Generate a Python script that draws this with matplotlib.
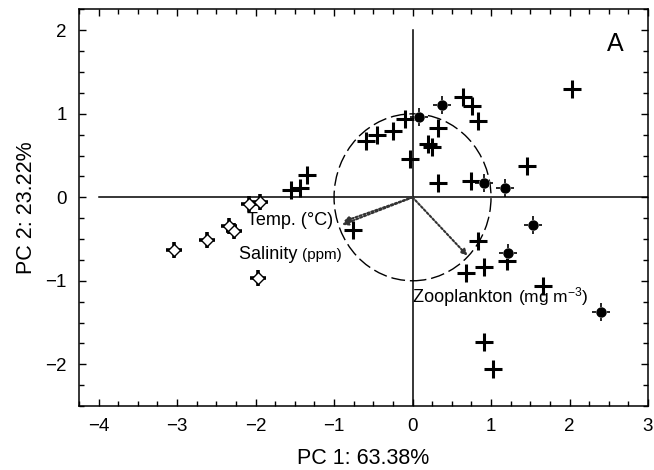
import matplotlib
matplotlib.use("Agg")
import matplotlib.pyplot as plt
from matplotlib.patches import Ellipse
from matplotlib.ticker import MultipleLocator
from matplotlib.transforms import offset_copy

plt.rcParams['font.family'] = ['Liberation Sans', 'DejaVu Sans']
plt.rcParams['mathtext.fontset'] = 'custom'
plt.rcParams['mathtext.rm'] = 'Liberation Sans'
plt.rcParams['mathtext.it'] = 'Liberation Sans:italic'
plt.rcParams['mathtext.bf'] = 'Liberation Sans:bold'

# Sample scores (PC1, PC2) by group
plus_x = [2.03, 0.64, 0.76, 0.83, -0.10, 0.32, -0.25, -0.45, -0.59, 0.20, 0.25,
          -0.03, 1.46, -1.35, -1.44, -1.55, 0.32, 0.74, -0.76,
          0.83, 1.20, 0.91, 0.68, 1.66, 0.91, 1.02]
plus_y = [1.30, 1.20, 1.09, 0.91, 0.94, 0.83, 0.80, 0.75, 0.67, 0.64, 0.60,
          0.46, 0.37, 0.27, 0.11, 0.09, 0.17, 0.20, -0.39,
          -0.52, -0.76, -0.83, -0.91, -1.06, -1.73, -2.06]

open_x = [-3.04, -2.62, -2.34, -2.27, -2.09, -1.95, -1.97]
open_y = [-0.63, -0.51, -0.34, -0.40, -0.08, -0.06, -0.97]

filled_x = [0.37, 0.08, 0.91, 1.18, 1.53, 1.22, 2.40]
filled_y = [1.10, 0.96, 0.17, 0.11, -0.33, -0.67, -1.37]

# Environmental vectors
vec_names = ['Temp.', 'Salinity', 'Zooplankton']
vec_units = ['(°C)', '(ppm)', '(mg m$^{-3}$)']
vec_x = [-0.88, -0.90, 0.70]
vec_y = [-0.29, -0.33, -0.70]

fig = plt.figure(figsize=(6.54, 4.70), dpi=100)
ax = fig.add_axes([0.1208, 0.1362, 0.87, 0.8436])
ax.set_xlim(-4.25, 3.0)
ax.set_ylim(-2.5, 2.25)

# zero lines
ax.plot([-4, 3], [0, 0], color='black', lw=1.1, zorder=1)
ax.plot([0, 0], [-2.5, 2], color='black', lw=1.1, zorder=1)

# correlation circle
ax.add_patch(Ellipse((0, 0), 2, 2, fill=False, ls=(0, (10, 3.5)), lw=1.0,
                     color='black', zorder=1))

# vectors
for vx, vy in zip(vec_x, vec_y):
    ax.annotate('', xy=(vx, vy), xytext=(0, 0),
                arrowprops=dict(arrowstyle='-|>', ls=(0, (1, 1)), lw=1.5,
                                color='#333333', mutation_scale=9,
                                shrinkA=0, shrinkB=0), zorder=2)

# points
ax.plot(plus_x, plus_y, ls='none', marker='+', ms=13, mew=2.2,
        color='black', zorder=4)
ax.plot(open_x, open_y, ls='none', marker='+', ms=12, mew=2.6,
        color='black', zorder=4)
ax.plot(open_x, open_y, ls='none', marker='D', ms=6, mfc='white',
        mec='black', mew=1.0, zorder=5)
ax.plot(filled_x, filled_y, ls='none', marker='+', ms=13, mew=1.2,
        color='black', zorder=4)
ax.plot(filled_x, filled_y, ls='none', marker='o', ms=6.5, mfc='white',
        mec='white', mew=1.5, zorder=5)
ax.plot(filled_x, filled_y, ls='none', marker='o', ms=6.5, mfc='black',
        mec='black', zorder=6)

# vector labels
ax.text(-1.01, -0.33, vec_names[0] + ' ' + vec_units[0], fontsize=13,
        ha='right', va='baseline', zorder=7)
fig.canvas.draw()
r = fig.canvas.get_renderer()

t2 = ax.text(-2.21, -0.74, vec_names[1] + ' ', fontsize=13,
             ha='left', va='baseline', zorder=7)
w2 = t2.get_window_extent(r).width * 72 / fig.dpi
ax.text(-2.21, -0.74, vec_units[1], fontsize=11, ha='left', va='baseline',
        zorder=7, transform=offset_copy(ax.transData, fig, x=w2, y=0, units='points'))

t3 = ax.text(0.01, -1.26, vec_names[2] + ' ', fontsize=13,
             ha='left', va='baseline', zorder=7)
w3 = t3.get_window_extent(r).width * 72 / fig.dpi
ax.text(0.01, -1.26, vec_units[2], fontsize=12.5, ha='left', va='baseline',
        zorder=7, transform=offset_copy(ax.transData, fig, x=w3, y=0, units='points'))

ax.text(2.58, 1.84, 'A', fontsize=18, ha='center', va='center')

ax.xaxis.set_major_locator(MultipleLocator(1))
ax.xaxis.set_minor_locator(MultipleLocator(0.25))
ax.yaxis.set_major_locator(MultipleLocator(1))
ax.yaxis.set_minor_locator(MultipleLocator(0.25))
ax.tick_params(which='both', direction='in', top=True, right=True,
               labelsize=13.5, width=1)
ax.tick_params(which='major', length=5, pad=9)
ax.tick_params(which='minor', length=3.5)
for s in ax.spines.values():
    s.set_linewidth(1.1)

ax.set_xlabel('PC 1: 63.38%', fontsize=15.5, labelpad=9)
ax.set_ylabel('PC 2: 23.22%', fontsize=15.5, labelpad=6)

fig.savefig('out.png', dpi=100)
